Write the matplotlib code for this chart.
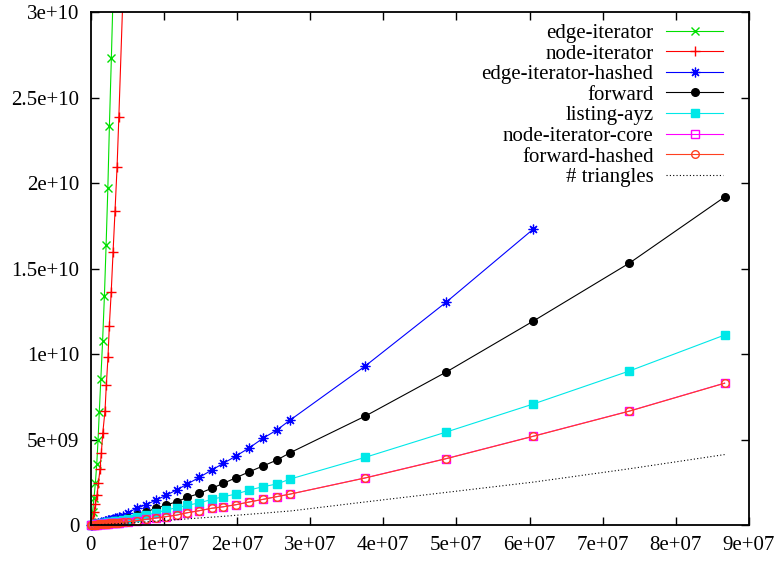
import matplotlib.pyplot as plt
from matplotlib.ticker import FuncFormatter, MultipleLocator

# graph sizes (millions) shared by the faster algorithms
sizes_small = [0.07, 0.27, 0.48, 0.66, 0.86, 1.05, 1.26, 1.46, 1.67, 1.96,
               2.16, 2.39, 2.57, 2.83, 3.12, 3.39, 3.67, 3.86, 4.45]
sizes_large = [5.1, 6.29, 7.59, 8.96, 10.33, 11.76, 13.24, 14.88, 16.58, 18.17,
               19.9, 21.72, 23.56, 25.47, 27.29, 37.55, 48.63, 60.53, 73.66, 86.66]
sizes = sizes_small + sizes_large

# slow algorithms were only run on small graphs (sizes in millions, times in 1e9)
edge_iter_x = [0.1, 0.28, 0.47, 0.66, 0.85, 1.03, 1.2, 1.41, 1.65, 1.9,
               2.13, 2.37, 2.58, 2.85, 3.1]
edge_iter_y = [0.19, 0.74, 1.56, 2.44, 3.55, 4.97, 6.63, 8.54, 10.76, 13.41,
               16.37, 19.73, 23.33, 27.33, 31.3]
node_iter_x = [0.30, 0.48, 0.66, 0.89, 1.07, 1.30, 1.48, 1.67, 1.98, 2.16,
               2.39, 2.57, 2.83, 3.08, 3.35, 3.63, 3.87, 4.45]
node_iter_y = [0.35, 0.78, 1.21, 1.75, 2.44, 3.27, 4.23, 5.36, 6.68, 8.19,
               9.84, 11.64, 13.64, 15.95, 18.38, 20.95, 23.84, 31.2]

# values in units of 1e9
edge_iter_hashed = [0.005, 0.025, 0.045, 0.065, 0.085, 0.11, 0.13, 0.155, 0.18, 0.21,
                    0.235, 0.265, 0.29, 0.32, 0.355, 0.39, 0.43, 0.45, 0.53,
                    0.72, 0.98, 1.19, 1.46, 1.74, 2.05, 2.40, 2.79, 3.22, 3.61,
                    4.04, 4.52, 5.07, 5.56, 6.14, 9.30, 13.04, 17.31]
forward = [0.004, 0.017, 0.03, 0.042, 0.055, 0.068, 0.082, 0.096, 0.11, 0.13,
           0.145, 0.16, 0.175, 0.195, 0.215, 0.235, 0.26, 0.275, 0.32,
           0.41, 0.60, 0.78, 0.98, 1.17, 1.36, 1.62, 1.85, 2.15, 2.44,
           2.77, 3.12, 3.45, 3.80, 4.23, 6.37, 8.95, 11.93, 15.32, 19.18]
listing_ayz = [0.005, 0.018, 0.031, 0.043, 0.056, 0.068, 0.082, 0.095, 0.108, 0.127,
               0.14, 0.155, 0.167, 0.184, 0.203, 0.22, 0.24, 0.25, 0.29,
               0.36, 0.49, 0.58, 0.72, 0.88, 1.01, 1.15, 1.30, 1.50, 1.66,
               1.81, 2.05, 2.24, 2.40, 2.69, 3.96, 5.44, 7.08, 9.01, 11.11]
node_iter_core = [0.0025, 0.009, 0.017, 0.023, 0.03, 0.037, 0.044, 0.051, 0.058, 0.069,
                  0.076, 0.084, 0.09, 0.099, 0.109, 0.119, 0.128, 0.135, 0.156,
                  0.19, 0.25, 0.33, 0.41, 0.49, 0.58, 0.72, 0.84, 0.98, 1.07,
                  1.19, 1.35, 1.50, 1.66, 1.81, 2.76, 3.89, 5.20, 6.67, 8.30]
forward_hashed = [0.0025, 0.009, 0.016, 0.023, 0.03, 0.036, 0.043, 0.05, 0.058, 0.068,
                  0.075, 0.083, 0.09, 0.098, 0.108, 0.118, 0.127, 0.134, 0.155,
                  0.19, 0.25, 0.33, 0.41, 0.49, 0.58, 0.72, 0.84, 0.98, 1.07,
                  1.19, 1.35, 1.50, 1.66, 1.81, 2.75, 3.88, 5.19, 6.66, 8.29]
triangles = [0.0015, 0.006, 0.01, 0.014, 0.018, 0.022, 0.027, 0.031, 0.036, 0.042,
             0.047, 0.052, 0.056, 0.062, 0.069, 0.075, 0.081, 0.086, 0.1,
             0.115, 0.15, 0.19, 0.23, 0.27, 0.31, 0.36, 0.41, 0.46, 0.51,
             0.57, 0.63, 0.69, 0.76, 0.82, 1.35, 1.91, 2.51, 3.29, 4.12]


def m(vals):
    return [v * 1e6 for v in vals]


def g(vals):
    return [v * 1e9 for v in vals]


plt.rcParams['font.family'] = ['Liberation Serif', 'DejaVu Serif']
plt.rcParams['font.size'] = 15

fig = plt.figure(figsize=(7.77, 5.64), dpi=100)
ax = fig.add_axes([0.1165, 0.0691, 0.8475, 0.9096])

lw = 0.8
ax.plot(m(edge_iter_x), g(edge_iter_y), color='#00e000', lw=lw, marker='x',
        ms=5.5, mew=1, label='edge-iterator')
ax.plot(m(node_iter_x), g(node_iter_y), color='#ff0000', lw=lw, marker='+',
        ms=7, mew=1, label='node-iterator')
n = len(edge_iter_hashed)
ax.plot(m(sizes[:n]), g(edge_iter_hashed), color='#0000ff', lw=lw, marker=(8, 2, 0),
        ms=7, mew=0.9, label='edge-iterator-hashed', clip_on=False)
ax.plot(m(sizes), g(forward), color='black', lw=lw, marker='o', ms=5.5,
        label='forward', clip_on=False)
ax.plot(m(sizes), g(listing_ayz), color='#00e8e8', lw=lw, marker='s', ms=5.5,
        label='listing-ayz', clip_on=False)
ax.plot(m(sizes), g(node_iter_core), color='#ff00ff', lw=lw, marker='s', ms=5.5,
        mfc='none', mew=1, label='node-iterator-core', clip_on=False)
ax.plot(m(sizes), g(forward_hashed), color='#ff4020', lw=lw, marker='o', ms=5.5,
        mfc='none', mew=1, label='forward-hashed', clip_on=False)
ax.plot(m(sizes), g(triangles), color='black', lw=0.8, ls=(0, (1, 2)),
        label='# triangles')

ax.set_xlim(0, 9e7)
ax.set_ylim(0, 3e10)
ax.xaxis.set_major_locator(MultipleLocator(1e7))
ax.yaxis.set_major_locator(MultipleLocator(5e9))
fmt = FuncFormatter(lambda v, p: '%g' % v)
ax.xaxis.set_major_formatter(fmt)
ax.yaxis.set_major_formatter(fmt)
ax.tick_params(direction='in', length=6, width=1, top=True, right=True,
               labelsize=15, pad=8)
for s in ax.spines.values():
    s.set_linewidth(1.3)

ax.legend(loc='upper right', bbox_to_anchor=(0.961, 0.978), frameon=False,
          markerfirst=False, numpoints=1, fontsize=15, handlelength=2.75,
          handletextpad=0.6, labelspacing=0.05, borderpad=0, borderaxespad=0)

plt.savefig('out.png', dpi=100)
